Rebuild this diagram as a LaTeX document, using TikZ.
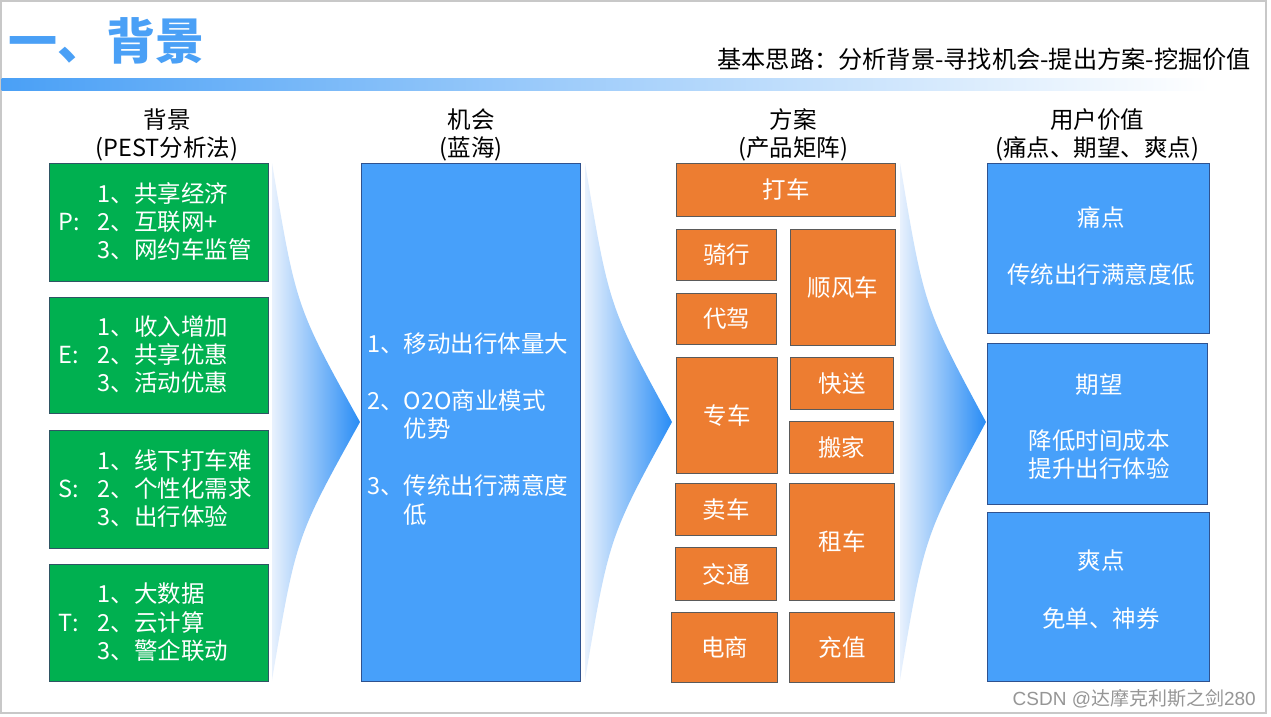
\documentclass[tikz,border=0pt]{standalone}
\usepackage{fontspec}
\setmainfont{Noto Sans CJK SC}
\newfontfamily\latinsans{Liberation Sans}
\definecolor{titleblue}{RGB}{74,160,246}
\definecolor{gfill}{RGB}{0,176,80}
\definecolor{gdraw}{RGB}{47,85,100}
\definecolor{ofill}{RGB}{237,125,49}
\definecolor{odraw}{RGB}{90,90,90}
\definecolor{bfill}{RGB}{71,160,250}
\definecolor{bdraw}{RGB}{47,82,143}
\definecolor{chevL}{RGB}{232,241,253}
\definecolor{chevR}{RGB}{40,140,245}
\definecolor{framegray}{RGB}{200,200,200}
\definecolor{wmgray}{RGB}{150,150,150}
\newcommand\pestlines[4]{\raisebox{-2.5pt}[\height][\depth]{\begin{tabular}{@{}l@{}l@{}}\makebox[39pt][l]{}&#2\\\makebox[39pt][l]{#1:}&#3\\\makebox[39pt][l]{}&#4\end{tabular}}}
\begin{document}
\begin{tikzpicture}[x=1pt,y=-1pt,
  boxbase/.style={draw, line width=1pt, inner sep=0pt, anchor=north west, text=white, font=\fontsize{23.5}{28}\selectfont},
  gbox/.style={boxbase, fill=gfill, draw=gdraw, minimum width=219pt, text width=201pt, inner xsep=9pt, align=left},
  obox/.style={boxbase, fill=ofill, draw=odraw},
  vbox/.style={boxbase, fill=bfill, draw=bdraw},
  head/.style={font=\fontsize{23.5}{28}\selectfont, align=center, inner sep=0pt, text=black},
  boxtext/.style={font=\fontsize{23.5}{28}\selectfont, text=white, inner sep=0pt},
  chev/.style={left color=chevL, right color=chevR}]
\useasboundingbox (0,0) rectangle (1271,717);
\fill[white] (0,0) rectangle (1271,717);
\draw[framegray, line width=1.5pt] (1,1) rectangle (1266,713);
% title and bar
\node[anchor=west, inner sep=0pt, text=titleblue, font=\fontsize{49}{52}\selectfont\bfseries] (title) at (8,40.5) {一、背景};
\node[anchor=east, inner sep=0pt, font=\fontsize{24.2}{28}\selectfont] (sub) at (1251,59) {基本思路：分析背景-寻找机会-提出方案-挖掘价值};
\shade[left color=titleblue, right color=white] (1.5,78) rectangle (1210,90);
% headers
\node[head] (h1) at (167,135) {背景\\(PEST分析法)};
\node[head] (h2) at (471,135) {机会\\(蓝海)};
\node[head] (h3) at (793,135) {方案\\(产品矩阵)};
\node[head] (h4) at (1097,135) {用户价值\\(痛点、期望、爽点)};
% green PEST boxes
\node[gbox, minimum height=118pt] (pbox) at (49,163) {\pestlines{P}{1、共享经济}{2、互联网+}{3、网约车监管}};
\node[gbox, minimum height=116pt] (ebox) at (49,297) {\pestlines{E}{1、收入增加}{2、共享优惠}{3、活动优惠}};
\node[gbox, minimum height=118pt] (sbox) at (49,430) {\pestlines{S}{1、线下打车难}{2、个性化需求}{3、出行体验}};
\node[gbox, minimum height=117pt] (tbox) at (49,564) {\pestlines{T}{1、大数据}{2、云计算}{3、警企联动}};
% chevrons
\shade[chev] (272,163) .. controls (296,307) .. (360,422) .. controls (296,537) .. (272,680) -- cycle;
\shade[chev] (585,163) .. controls (609,307) .. (672,422) .. controls (609,537) .. (585,680) -- cycle;
\shade[chev] (900,163) .. controls (924,307) .. (986,422) .. controls (924,537) .. (900,680) -- cycle;
% opportunity box
\node[vbox, minimum width=219pt, minimum height=518pt] (oppbox) at (361,163) {};
\node[boxtext, anchor=north west] (opptext) at (367,332.3) {\begin{tabular}{@{}l@{}l@{}}1、&移动出行体量大\\[29pt]2、&O2O商业模式\\&优势\\[29pt]3、&传统出行满意度\\&低\end{tabular}};
% product matrix
\node[obox, minimum width=219pt, minimum height=53pt] (dache) at (676,163) {打车};
\node[obox, minimum width=100pt, minimum height=51pt] (qixing) at (676,229) {骑行};
\node[obox, minimum width=100pt, minimum height=51pt] (daijia) at (676,293) {代驾};
\node[obox, minimum width=105pt, minimum height=116pt] (shunfeng) at (790,229) {顺风车};
\node[obox, minimum width=101pt, minimum height=116pt] (zhuanche) at (676,357) {专车};
\node[obox, minimum width=103pt, minimum height=52pt] (kuaisong) at (790,357) {快送};
\node[obox, minimum width=104pt, minimum height=52pt] (banjia) at (789,421) {搬家};
\node[obox, minimum width=101pt, minimum height=52pt] (maiche) at (675,483) {卖车};
\node[obox, minimum width=101pt, minimum height=53pt] (jiaotong) at (675,547) {交通};
\node[obox, minimum width=105pt, minimum height=117pt] (zuche) at (789,483) {租车};
\node[obox, minimum width=106pt, minimum height=70pt] (dianshang) at (671,612) {电商};
\node[obox, minimum width=105pt, minimum height=70pt] (chongzhi) at (789,612) {充值};
% user value boxes
\node[vbox, minimum width=222pt, minimum height=170pt] (tong) at (987,163) {};
\node[vbox, minimum width=220pt, minimum height=161pt] (qiwang) at (987,343) {};
\node[vbox, minimum width=222pt, minimum height=169pt] (shuang) at (987,512) {};
\node[boxtext, align=center] (tongtxt) at (1101,246.5) {痛点\\[29pt]传统出行满意度低};
\node[boxtext, align=center] (qiwangtxt) at (1099,427) {期望\\[28pt]降低时间成本\\提升出行体验};
\node[boxtext, align=center] (shuangtxt) at (1101,590) {爽点\\[30pt]免单、神券};
% watermark
\node[anchor=east, text=wmgray, inner sep=0pt, font=\fontsize{19}{22}\selectfont] (wm) at (1256,699) {{\latinsans CSDN @}达摩克利斯之剑{\latinsans 280}};
\end{tikzpicture}
\end{document}
